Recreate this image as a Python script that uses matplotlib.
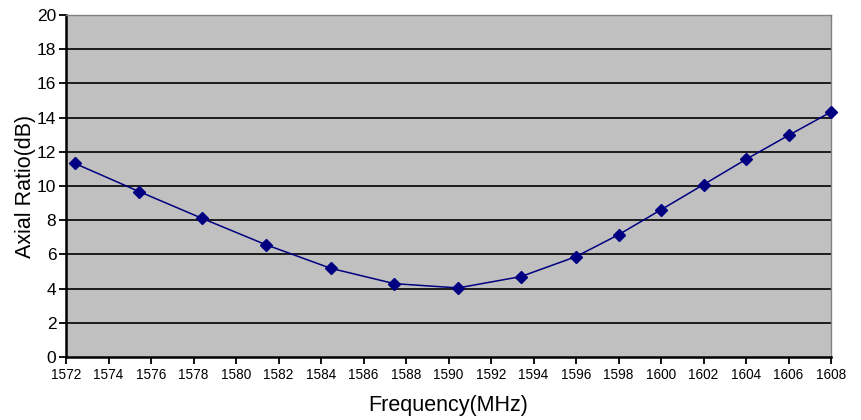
import matplotlib
matplotlib.use("Agg")
import matplotlib.pyplot as plt
import numpy as np

freq = [1572.4, 1575.45, 1578.4, 1581.4, 1584.45, 1587.45, 1590.45, 1593.4,
        1596.0, 1598.0, 1600.0, 1602.0, 1604.0, 1606.0, 1608.0]
axial_ratio = [11.33, 9.67, 8.11, 6.57, 5.19, 4.29, 4.04, 4.70,
               5.87, 7.15, 8.61, 10.08, 11.56, 12.96, 14.33]
xticks = np.arange(1572, 1609, 2)
yticks = np.arange(0, 21, 2)

plt.rcParams['font.family'] = ['Liberation Sans', 'DejaVu Sans']

fig = plt.figure(figsize=(8.61, 4.2), dpi=100)
ax = fig.add_axes([66/861, 1-357/420, (831-66)/861, (357-15)/420])
ax.set_facecolor('#C0C0C0')

for y in yticks[1:-1]:
    ax.axhline(y, color='black', linewidth=1.2, zorder=1)

ax.plot(freq, axial_ratio, color='#000080', linewidth=1.1, marker='D',
        markersize=6, markerfacecolor='#000080', markeredgecolor='#000080',
        zorder=3, clip_on=False)

ax.set_xlim(1572, 1608)
ax.set_ylim(0, 20)
ax.set_xticks(xticks)
ax.set_yticks(yticks)
ax.tick_params(axis='x', labelsize=9.8, direction='out', length=5, width=1.3, pad=3)
ax.tick_params(axis='y', labelsize=12.5, direction='out', length=5, width=1.3, pad=2)

for side in ['top', 'right']:
    ax.spines[side].set_color('#808080')
    ax.spines[side].set_linewidth(1.0)
for side in ['left', 'bottom']:
    ax.spines[side].set_color('black')
    ax.spines[side].set_linewidth(1.8)

ax.set_xlabel('Frequency(MHz)', fontsize=15.5, labelpad=9)
ax.set_ylabel('Axial Ratio(dB)', fontsize=15.5, labelpad=1)

fig.savefig('out.png', dpi=100)
